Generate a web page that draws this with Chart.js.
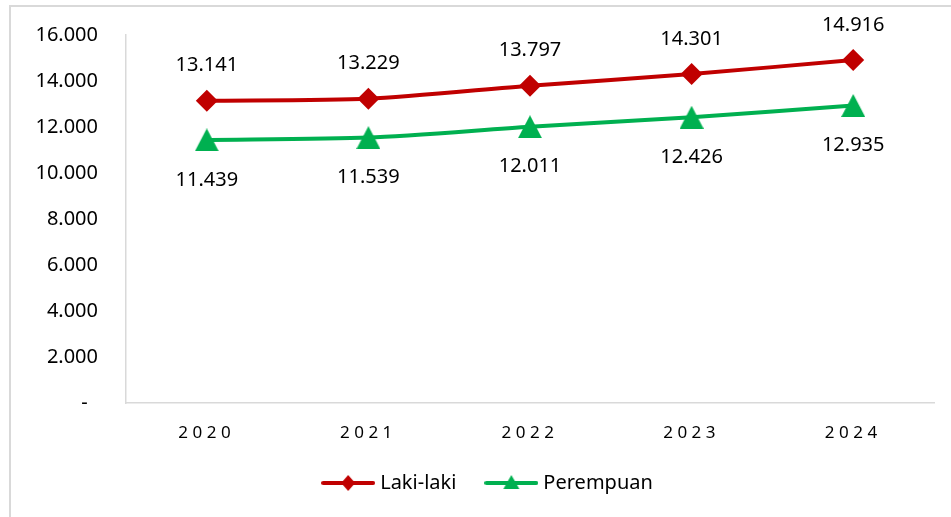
<!DOCTYPE html>
<html>
<head>
<meta charset="utf-8">
<script src="https://cdn.jsdelivr.net/npm/chart.js@4"></script>
<style>
  html, body { margin: 0; padding: 0; background: #ffffff; }
  #wrap { width: 951px; height: 517px; position: relative; }
</style>
</head>
<body>
<div id="wrap"><canvas id="c" width="951" height="517"></canvas></div>
<script>
const categories = ['2020', '2021', '2022', '2023', '2024'];
const lakiLaki = [13141, 13229, 13797, 14301, 14916];
const perempuan = [11439, 11539, 12011, 12426, 12935];
const seriesNames = ['Laki-laki', 'Perempuan'];
const yTicks = [0, 2000, 4000, 6000, 8000, 10000, 12000, 14000, 16000];

const RED = '#C00000';
const GREEN = '#00B050';
const FONT = '"Noto Sans", "Open Sans", sans-serif';

function fmt(v) {
  return String(v).replace(/\B(?=(\d{3})+(?!\d))/g, '.');
}

function triangleImg(w, h, color) {
  const c = document.createElement('canvas');
  c.width = w; c.height = h;
  const g = c.getContext('2d');
  g.fillStyle = color;
  g.beginPath();
  g.moveTo(w / 2, 0);
  g.lineTo(w, h);
  g.lineTo(0, h);
  g.closePath();
  g.fill();
  return c;
}

function legendImg(color, marker) {
  const w = 54, h = 24;
  const c = document.createElement('canvas');
  c.width = w; c.height = h;
  const g = c.getContext('2d');
  g.strokeStyle = color;
  g.lineWidth = 4;
  g.lineCap = 'round';
  g.beginPath();
  g.moveTo(2, h / 2);
  g.lineTo(w - 2, h / 2);
  g.stroke();
  g.fillStyle = color;
  g.beginPath();
  if (marker === 'diamond') {
    g.moveTo(w / 2, h / 2 - 8);
    g.lineTo(w / 2 + 7, h / 2);
    g.lineTo(w / 2, h / 2 + 8);
    g.lineTo(w / 2 - 7, h / 2);
  } else {
    g.moveTo(w / 2, h / 2 - 8);
    g.lineTo(w / 2 + 8, h / 2 + 6);
    g.lineTo(w / 2 - 8, h / 2 + 6);
  }
  g.closePath();
  g.fill();
  return c;
}

const triPoint = triangleImg(24, 23, GREEN);
const legendImgs = [legendImg(RED, 'diamond'), legendImg(GREEN, 'triangle')];

const frame = {
  id: 'frame',
  afterLayout(chart) {
    if (chart.legend) {
      chart.legend.left += 7;
      chart.legend.right += 7;
    }
  },
  beforeDraw(chart) {
    const ctx = chart.ctx;
    ctx.save();
    ctx.fillStyle = '#ffffff';
    ctx.fillRect(0, 0, chart.width, chart.height);
    ctx.strokeStyle = '#d9d9d9';
    ctx.lineWidth = 2;
    ctx.strokeRect(10, 6, chart.width + 20, chart.height + 20);
    ctx.restore();
    const s = chart.scales.x;
    if (s && !s._spaced) {
      const orig = s.drawLabels;
      s.drawLabels = function (a) {
        const c = this.ctx;
        c.save();
        c.letterSpacing = '4.5px';
        orig.call(this, a);
        c.restore();
      };
      s._spaced = true;
    }
  }
};

const dataLabels = {
  id: 'dataLabels',
  afterDatasetsDraw(chart) {
    const ctx = chart.ctx;
    ctx.save();
    ctx.font = '20px ' + FONT;
    ctx.fillStyle = '#000000';
    ctx.textAlign = 'center';
    ctx.textBaseline = 'middle';
    chart.data.datasets.forEach((ds, i) => {
      const meta = chart.getDatasetMeta(i);
      meta.data.forEach((pt, j) => {
        const off = i === 0 ? -35 : 40;
        ctx.fillText(fmt(ds.data[j]), pt.x, pt.y + off);
      });
    });
    ctx.restore();
  }
};

new Chart(document.getElementById('c'), {
  type: 'line',
  data: {
    labels: categories,
    datasets: [
      {
        label: seriesNames[0],
        data: lakiLaki,
        borderColor: RED,
        backgroundColor: RED,
        borderWidth: 4,
        tension: 0.25,
        pointStyle: 'rectRot',
        pointRadius: 11,
        pointHoverRadius: 11,
        pointBackgroundColor: RED,
        pointBorderColor: RED,
        pointBorderWidth: 0
      },
      {
        label: seriesNames[1],
        data: perempuan,
        borderColor: GREEN,
        backgroundColor: GREEN,
        borderWidth: 4,
        tension: 0.25,
        pointStyle: triPoint,
        pointRadius: 12,
        pointHoverRadius: 12,
        pointBackgroundColor: GREEN,
        pointBorderColor: GREEN,
        pointBorderWidth: 0
      }
    ]
  },
  options: {
    responsive: false,
    animation: false,
    devicePixelRatio: 1,
    layout: { padding: { left: 31, top: 35, right: 17, bottom: 14 } },
    plugins: {
      tooltip: { enabled: false },
      legend: {
        position: 'bottom',
        labels: {
          usePointStyle: true,
          pointStyleWidth: 44,
          padding: 33,
          color: '#000000',
          font: { family: FONT, size: 20 },
          generateLabels(chart) {
            return chart.data.datasets.map((ds, i) => ({
              text: ds.label,
              pointStyle: legendImgs[i],
              fillStyle: ds.borderColor,
              strokeStyle: ds.borderColor,
              lineWidth: 0,
              hidden: false,
              datasetIndex: i,
              fontColor: '#000000'
            }));
          }
        }
      }
    },
    scales: {
      x: {
        offset: true,
        grid: { display: false, drawTicks: false },
        border: { display: true, color: '#d9d9d9', width: 1.5 },
        ticks: {
          color: '#000000',
          padding: 20,
          font: { family: FONT, size: 17 },
          maxRotation: 0
        },
        afterFit(scale) { scale.height = 37; }
      },
      y: {
        min: 0,
        max: 16000,
        grid: { display: false, drawTicks: false },
        border: { display: true, color: '#d9d9d9', width: 1.5 },
        afterBuildTicks(scale) { scale.ticks = yTicks.map(v => ({ value: v })); },
        ticks: {
          color: '#000000',
          padding: 28,
          font: { family: FONT, size: 20 },
          callback(v) { return v === 0 ? '-  ' : fmt(v); }
        },
        afterFit(scale) {
          scale.width = 95;
          scale.paddingTop = 12;
          scale.paddingBottom = 12;
        }
      }
    }
  },
  plugins: [frame, dataLabels]
});
</script>
</body>
</html>
